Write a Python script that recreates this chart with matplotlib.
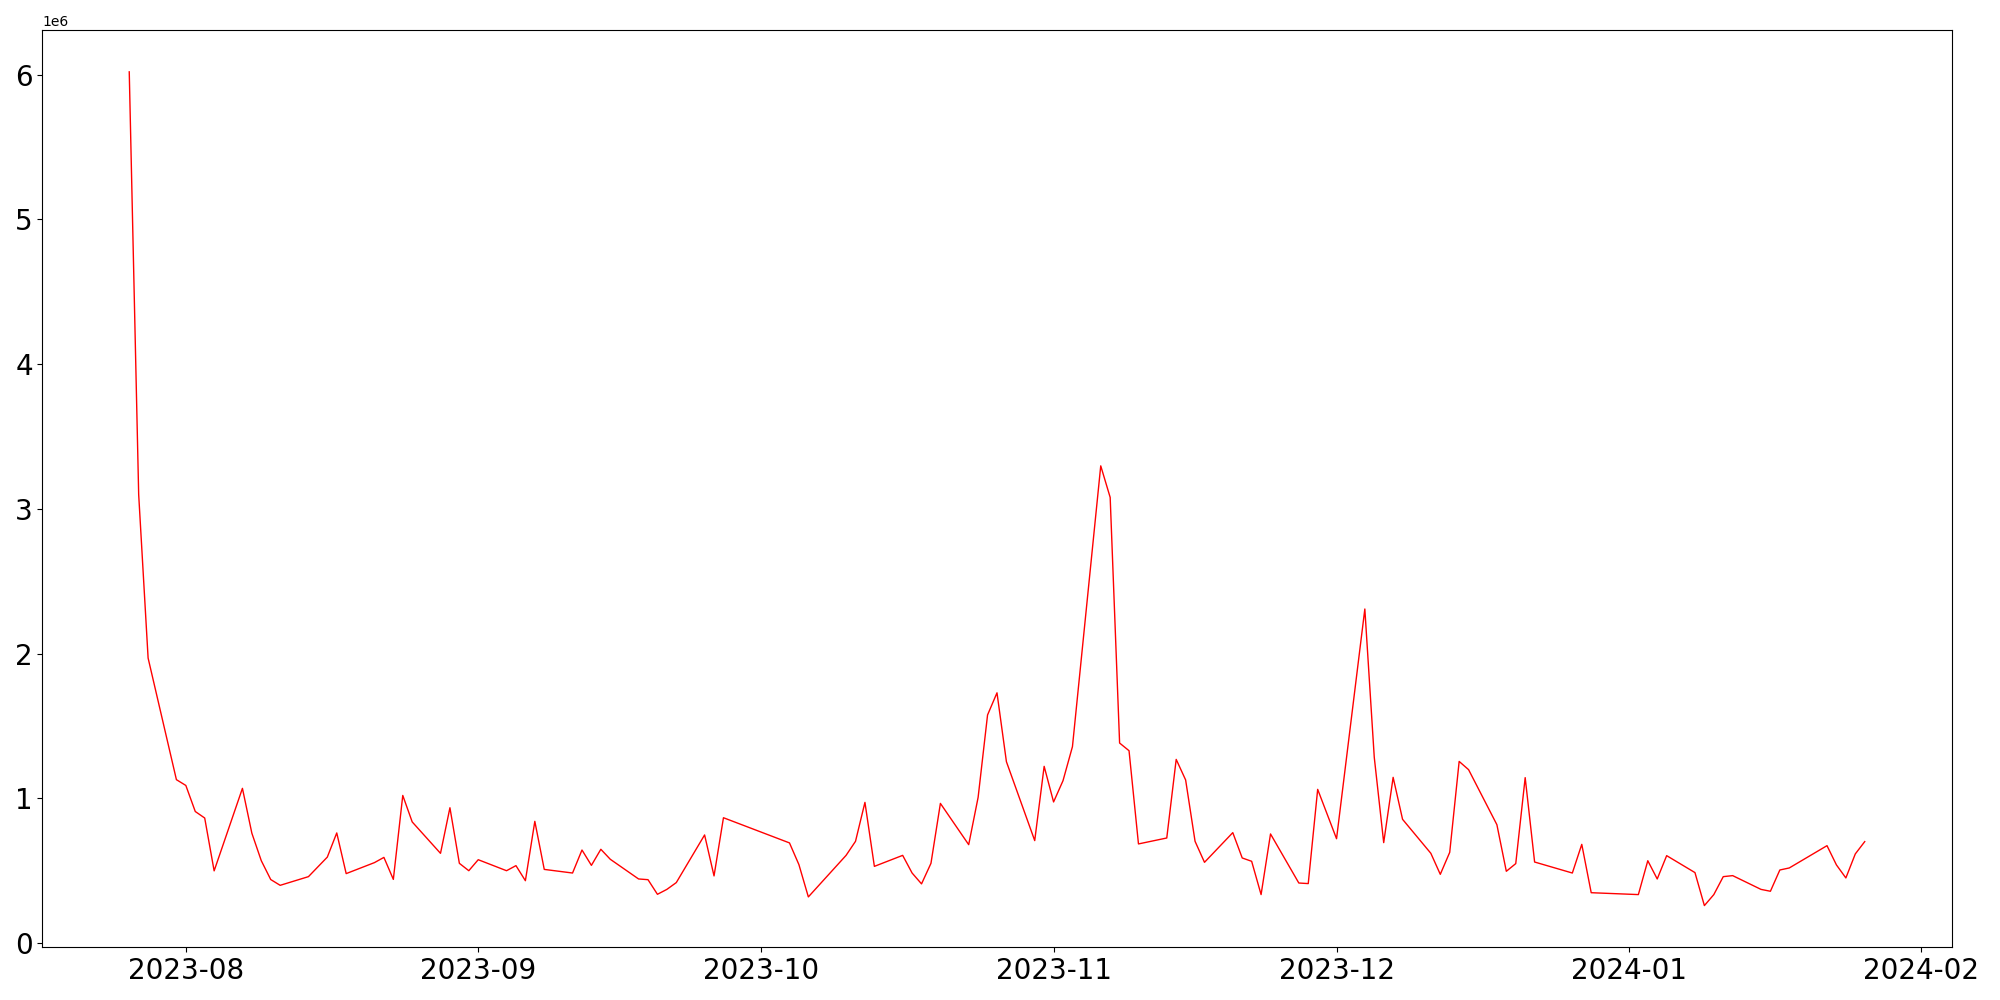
import pandas as pd
import matplotlib
matplotlib.use("Agg")
import matplotlib.pyplot as plt

# daily values (units of 1e6)
dates = [
    "2023-07-26", "2023-07-27", "2023-07-28", "2023-07-31", "2023-08-01",
    "2023-08-02", "2023-08-03", "2023-08-04", "2023-08-07", "2023-08-08",
    "2023-08-09", "2023-08-10", "2023-08-11", "2023-08-14", "2023-08-16",
    "2023-08-17", "2023-08-18", "2023-08-21", "2023-08-22", "2023-08-23",
    "2023-08-24", "2023-08-25", "2023-08-28", "2023-08-29", "2023-08-30",
    "2023-08-31", "2023-09-01", "2023-09-04", "2023-09-05", "2023-09-06",
    "2023-09-07", "2023-09-08", "2023-09-11", "2023-09-12", "2023-09-13",
    "2023-09-14", "2023-09-15", "2023-09-18", "2023-09-19", "2023-09-20",
    "2023-09-21", "2023-09-22", "2023-09-25", "2023-09-26", "2023-09-27",
    "2023-10-04", "2023-10-05", "2023-10-06", "2023-10-10", "2023-10-11",
    "2023-10-12", "2023-10-13", "2023-10-16", "2023-10-17", "2023-10-18",
    "2023-10-19", "2023-10-20", "2023-10-23", "2023-10-24", "2023-10-25",
    "2023-10-26", "2023-10-27", "2023-10-30", "2023-10-31", "2023-11-01",
    "2023-11-02", "2023-11-03", "2023-11-06", "2023-11-07", "2023-11-08",
    "2023-11-09", "2023-11-10", "2023-11-13", "2023-11-14", "2023-11-15",
    "2023-11-16", "2023-11-17", "2023-11-20", "2023-11-21", "2023-11-22",
    "2023-11-23", "2023-11-24", "2023-11-27", "2023-11-28", "2023-11-29",
    "2023-12-01", "2023-12-04", "2023-12-05", "2023-12-06", "2023-12-07",
    "2023-12-08", "2023-12-11", "2023-12-12", "2023-12-13", "2023-12-14",
    "2023-12-15", "2023-12-18", "2023-12-19", "2023-12-20", "2023-12-21",
    "2023-12-22", "2023-12-26", "2023-12-27", "2023-12-28", "2024-01-02",
    "2024-01-03", "2024-01-04", "2024-01-05", "2024-01-08", "2024-01-09",
    "2024-01-10", "2024-01-11", "2024-01-12", "2024-01-15", "2024-01-16",
    "2024-01-17", "2024-01-18", "2024-01-22", "2024-01-23", "2024-01-24",
    "2024-01-25", "2024-01-26",
]
values_m = [
    6.02, 3.10, 1.97, 1.13, 1.09,
    0.91, 0.865, 0.50, 1.07, 0.76,
    0.57, 0.44, 0.40, 0.46, 0.595,
    0.762, 0.481, 0.557, 0.593, 0.441,
    1.021, 0.838, 0.621, 0.936, 0.552,
    0.501, 0.577, 0.501, 0.536, 0.432,
    0.842, 0.51, 0.485, 0.644, 0.538,
    0.649, 0.58, 0.444, 0.439, 0.338,
    0.372, 0.419, 0.748, 0.465, 0.867,
    0.693, 0.543, 0.32, 0.607, 0.704,
    0.973, 0.531, 0.607, 0.485, 0.41,
    0.552, 0.966, 0.681, 1.008, 1.577,
    1.73, 1.254, 0.709, 1.222, 0.976,
    1.123, 1.358, 3.298, 3.08, 1.383,
    1.33, 0.686, 0.727, 1.27, 1.128,
    0.704, 0.559, 0.764, 0.589, 0.566,
    0.336, 0.755, 0.416, 0.412, 1.063,
    0.722, 2.309, 1.284, 0.695, 1.146,
    0.856, 0.621, 0.476, 0.628, 1.256,
    1.199, 0.819, 0.497, 0.55, 1.144,
    0.561, 0.485, 0.683, 0.349, 0.336,
    0.57, 0.444, 0.605, 0.488, 0.26,
    0.336, 0.46, 0.467, 0.372, 0.359,
    0.506, 0.52, 0.674, 0.541, 0.451,
    0.617, 0.702,
]

x = pd.to_datetime(dates)
y = [v * 1e6 for v in values_m]

fig, ax = plt.subplots(figsize=(20, 10), dpi=100)
ax.plot(x, y, color="red", linewidth=1)

plt.xticks(fontsize=20)
plt.yticks(fontsize=20)

fig.tight_layout()
fig.savefig("out.png")
